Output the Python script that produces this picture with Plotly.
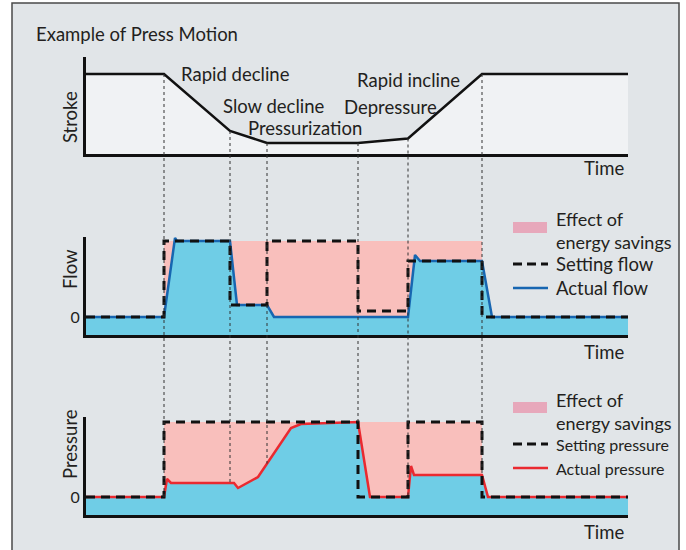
import plotly.graph_objects as go
import numpy as np

W, H = 686, 550

# ---------------- data ----------------
event_times = [78, 144, 181, 272, 322, 396]

stroke_t = [0, 78, 144, 181, 272, 322, 396, 543]
stroke_v = [80, 80, 23, 11, 11, 15.5, 80, 80]

flow_set_t = [0, 78, 144, 181, 272, 322, 396, 543]
flow_set_v = [0, 76, 12, 76, 6, 56, 0, 0]
flow_act_t = [0, 78, 89, 91, 144, 151, 181, 188, 322, 329, 334, 396, 406, 543]
flow_act_v = [0, 0, 79, 76, 76, 12, 12, 0, 0, 62, 56, 56, 0, 0]

press_set_t = [0, 78, 272, 322, 396, 543]
press_set_v = [0, 75, 0, 75, 0, 0]
press_act_t = [0, 78, 81, 85, 148, 152, 172, 205, 215, 272, 284, 322, 325, 328, 396, 402, 543]
press_act_v = [0, 0, 18, 14, 14, 9, 20, 69, 73, 75, 0, 0, 31, 22, 22, 0, 0]

saving_span = [78, 396]

stroke_labels = ["Rapid decline", "Slow decline", "Pressurization", "Rapid incline", "Depressure"]

# ---------------- styling ----------------
FONT = "Lato"
TXT = "#231f20"
BG = "#e1e5e8"
STROKE_FILL = "#f0f2f4"
BLUE_FILL = "#6fcde6"
PINK_FILL = "#f9bfbc"
PINK_SWATCH = "#e7a8bb"
BLUE_LINE = "#1766b1"
RED_LINE = "#ea2a30"

def px(x):
    return x / W

def py(y):
    return 1 - y / H

X_DOM = [px(86), px(628)]
X_RNG = [0, 542]

STROKE_DOM = [py(154), py(57)]
STROKE_RNG = [0, 97]
FLOW_DOM = [py(335), py(237)]
FLOW_RNG = [-18, 80]
PRESS_DOM = [py(515), py(417)]
PRESS_RNG = [-18, 80]

fig = go.Figure()

# ---- stroke panel ----
fig.add_trace(go.Scatter(x=stroke_t, y=stroke_v, mode="lines", fill="tozeroy",
                         fillcolor=STROKE_FILL, line=dict(color="#111", width=2.5),
                         xaxis="x", yaxis="y", hoverinfo="skip"))


def add_panel(xa, ya, set_t, set_v, act_t, act_v, rng, act_color):
    top = max(set_v)
    # energy-savings region
    fig.add_trace(go.Scatter(x=saving_span, y=[top, top], mode="lines", fill="tozeroy",
                             fillcolor=PINK_FILL, line=dict(width=0),
                             xaxis=xa, yaxis=ya, hoverinfo="skip"))
    # baseline at the axis floor
    fig.add_trace(go.Scatter(x=[X_RNG[0], X_RNG[1]], y=[rng[0], rng[0]], mode="lines",
                             line=dict(width=0), xaxis=xa, yaxis=ya, hoverinfo="skip"))
    fig.add_trace(go.Scatter(x=act_t, y=act_v, mode="lines", fill="tonexty",
                             fillcolor=BLUE_FILL, line=dict(color=act_color, width=2.5),
                             xaxis=xa, yaxis=ya, hoverinfo="skip"))
    fig.add_trace(go.Scatter(x=set_t, y=set_v, mode="lines", line_shape="hv",
                             line=dict(color="#111", width=3, dash="9px,6px"),
                             xaxis=xa, yaxis=ya, hoverinfo="skip"))


add_panel("x2", "y2", flow_set_t, flow_set_v, flow_act_t, flow_act_v, FLOW_RNG, BLUE_LINE)
add_panel("x3", "y3", press_set_t, press_set_v, press_act_t, press_act_v, PRESS_RNG, RED_LINE)

axis_common = dict(showline=True, linecolor="#111", linewidth=3, showgrid=False,
                   zeroline=False, ticks="", fixedrange=True)

fig.update_layout(
    xaxis=dict(domain=X_DOM, range=X_RNG, anchor="y", showticklabels=False, **axis_common),
    yaxis=dict(domain=STROKE_DOM, range=STROKE_RNG, anchor="x", showticklabels=False, **axis_common),
    xaxis2=dict(domain=X_DOM, range=X_RNG, anchor="y2", showticklabels=False, **axis_common),
    yaxis2=dict(domain=FLOW_DOM, range=FLOW_RNG, anchor="x2", tickvals=[0], ticktext=["0"],
                tickfont=dict(size=16, color=TXT, family=FONT), **axis_common),
    xaxis3=dict(domain=X_DOM, range=X_RNG, anchor="y3", showticklabels=False, **axis_common),
    yaxis3=dict(domain=PRESS_DOM, range=PRESS_RNG, anchor="x3", tickvals=[0], ticktext=["0"],
                tickfont=dict(size=16, color=TXT, family=FONT), **axis_common),
)


def to_paper(v, dom, rng):
    return dom[0] + (v - rng[0]) / (rng[1] - rng[0]) * (dom[1] - dom[0])


shapes = []
# outer frame
shapes.append(dict(type="rect", xref="paper", yref="paper", x0=px(12), x1=px(679),
                   y0=py(565), y1=py(3), fillcolor=BG, line=dict(color="#4a4a4a", width=1.5),
                   layer="below"))

# dotted guide lines
for t in event_times:
    s = float(np.interp(t, stroke_t, stroke_v))
    p = float(np.interp(t, press_act_t, press_act_v))
    shapes.append(dict(type="line", xref="x", yref="paper", x0=t, x1=t,
                       y0=to_paper(s, STROKE_DOM, STROKE_RNG),
                       y1=to_paper(p, PRESS_DOM, PRESS_RNG),
                       line=dict(color="#333", width=1, dash="dot"), layer="above"))

annotations = []


def text(x, y, s, size=18, xanchor="left", angle=0):
    annotations.append(dict(x=px(x), y=py(y), xref="paper", yref="paper", text=s,
                            showarrow=False, xanchor=xanchor, yanchor="middle",
                            textangle=angle, align="left",
                            font=dict(family=FONT, size=size, color=TXT)))


text(34, 34, "Example of Press Motion", size=18.5)

# stroke phase labels
label_pos = [(179, 74), (221, 106), (246, 128), (355, 80), (342, 107)]
for (lx, ly), lab in zip(label_pos, stroke_labels):
    text(lx, ly, lab, size=18.5)

# axis titles
text(70, 117, "Stroke", size=18.5, xanchor="center", angle=-90)
text(70, 269, "Flow", size=18.5, xanchor="center", angle=-90)
text(70, 444, "Pressure", size=18.5, xanchor="center", angle=-90)

for ty in (168, 352, 532):
    text(627, ty, "Time", size=18.5, xanchor="right")


def legend(top, set_label, act_label, act_color, small):
    shapes.append(dict(type="rect", xref="paper", yref="paper", x0=px(513), x1=px(547),
                       y0=py(top + 11), y1=py(top), fillcolor=PINK_SWATCH, line=dict(width=0)))
    text(554, top + 9, "Effect of<br>energy savings", size=18)
    shapes.append(dict(type="line", xref="paper", yref="paper", x0=px(513), x1=px(548),
                       y0=py(top + 42), y1=py(top + 42),
                       line=dict(color="#111", width=3, dash="9px,5px")))
    text(554, top + 42, set_label, size=16 if small else 18.5)
    shapes.append(dict(type="line", xref="paper", yref="paper", x0=px(513), x1=px(548),
                       y0=py(top + 66), y1=py(top + 66),
                       line=dict(color=act_color, width=2.5)))
    text(554, top + 66, act_label, size=16 if small else 18.5)


legend(222, "Setting flow", "Actual flow", BLUE_LINE, False)
legend(402, "Setting pressure", "Actual pressure", RED_LINE, True)

fig.update_layout(
    width=W, height=H, autosize=False,
    margin=dict(l=0, r=0, t=0, b=0),
    paper_bgcolor="white", plot_bgcolor="rgba(0,0,0,0)",
    showlegend=False,
    shapes=shapes, annotations=annotations,
)

fig.write_html("out.html", config={"displayModeBar": False},
               post_script="document.body.style.margin='0';")
